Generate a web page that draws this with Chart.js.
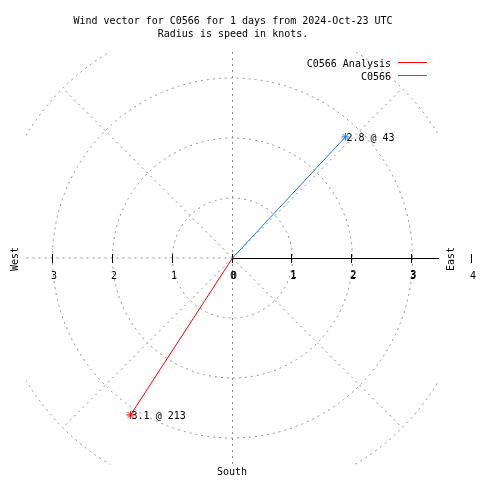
<!DOCTYPE html>
<html>
<head>
<meta charset="utf-8">
<script src="https://cdn.jsdelivr.net/npm/chart.js@4.4.0/dist/chart.umd.min.js"></script>
<style>
  html, body { margin: 0; padding: 0; background: #fff; }
  #wrap { width: 480px; height: 480px; position: relative; }
</style>
</head>
<body>
<div id="wrap"><canvas id="windChart"></canvas></div>
<script>
// data
const seriesNames = ['C0566 Analysis', 'C0566'];
const speeds = [3.12, 2.76];        // knots
const directions = [213, 43];       // degrees, clockwise from north
const seriesColors = ['#ff0000', '#1a7ae6'];
const ringValues = [1, 2, 3, 4];
const tickLabels = ['0', '1', '2', '3', '4'];
const titleLines = [
    'Wind vector for C0566 for 1 days from 2024-Oct-23 UTC',
    'Radius is speed in knots.'
];

const FONT = '10px "DejaVu Sans Mono", "Liberation Mono", monospace';
const LIM = 3.4417;

function tip(i) {
    const a = directions[i] * Math.PI / 180;
    return { x: speeds[i] * Math.sin(a), y: speeds[i] * Math.cos(a) };
}

const datasets = seriesNames.map((name, i) => ({
    label: name,
    data: [{ x: 0, y: 0 }, tip(i)],
    showLine: true,
    borderColor: seriesColors[i],
    backgroundColor: seriesColors[i],
    borderWidth: 1,
    pointStyle: 'star',
    pointRadius: [0, 4],
    pointBorderColor: seriesColors[i],
    pointBorderWidth: 1
}));

// polar grid, axis, and all the gnuplot-style text
const polarDecor = {
    id: 'polarDecor',
    beforeDatasetsDraw(chart) {
        const { ctx, chartArea: ca, scales: { x, y } } = chart;
        const cx = x.getPixelForValue(0);
        const cy = y.getPixelForValue(0);
        const unit = x.getPixelForValue(1) - cx;

        ctx.save();
        ctx.beginPath();
        ctx.rect(ca.left, ca.top, ca.right - ca.left, ca.bottom - ca.top);
        ctx.clip();
        ctx.strokeStyle = '#8c8c8c';
        ctx.lineWidth = 1;
        ctx.setLineDash([2, 4]);
        ringValues.forEach(r => {
            ctx.beginPath();
            ctx.arc(cx, cy, r * unit, 0, Math.PI * 2);
            ctx.stroke();
        });
        const rMax = ringValues[ringValues.length - 1];
        for (let deg = 0; deg < 360; deg += 45) {
            if (deg === 90) continue; // east is the solid axis
            const a = deg * Math.PI / 180;
            ctx.beginPath();
            ctx.moveTo(cx, cy);
            ctx.lineTo(x.getPixelForValue(rMax * Math.sin(a)), y.getPixelForValue(rMax * Math.cos(a)));
            ctx.stroke();
        }
        ctx.restore();

        // solid east axis
        ctx.save();
        ctx.strokeStyle = '#000';
        ctx.lineWidth = 1;
        ctx.beginPath();
        ctx.moveTo(cx, cy + 0.5);
        ctx.lineTo(ca.right, cy + 0.5);
        ctx.stroke();

        // ticks and tick labels
        ctx.font = FONT;
        ctx.fillStyle = '#000';
        ctx.textAlign = 'center';
        ctx.textBaseline = 'alphabetic';
        tickLabels.forEach((lab, k) => {
            const v = Number(lab);
            [v, -v].forEach((val, side) => {
                if (side === 1 && v === 4) return;
                if (side === 1 && v === 0) return;
                const px = Math.round(x.getPixelForValue(val)) - 0.5;
                ctx.beginPath();
                ctx.moveTo(px, cy - 4);
                ctx.lineTo(px, cy + 5);
                ctx.stroke();
                ctx.fillText(lab, px + 1.5, cy + 21);
                if (side === 0 && v > 0 && v < 4) ctx.fillText(lab, px + 2, cy + 20);
            });
        });
        ctx.fillText('0', cx + 0.5, cy + 21);
        ctx.restore();
    },
    afterDatasetsDraw(chart) {
        const { ctx, scales: { x, y } } = chart;
        const cx = x.getPixelForValue(0);
        const cy = y.getPixelForValue(0);
        ctx.save();
        ctx.font = FONT;
        ctx.fillStyle = '#000';

        // title
        ctx.textAlign = 'center';
        ctx.fillText(titleLines[0], 233, 24);
        ctx.fillText(titleLines[1], 233, 37);

        // vector labels
        ctx.textAlign = 'left';
        seriesNames.forEach((name, i) => {
            const t = tip(i);
            ctx.fillText(speeds[i].toFixed(1) + ' @ ' + directions[i],
                x.getPixelForValue(t.x) + 1, y.getPixelForValue(t.y) + 4);
        });

        // compass labels
        ctx.textAlign = 'center';
        ctx.fillText('South', 232, 475);
        [['West', 18], ['East', 454]].forEach(([txt, px]) => {
            ctx.save();
            ctx.translate(px, cy + 1);
            ctx.rotate(-Math.PI / 2);
            ctx.fillText(txt, 0, 0);
            ctx.restore();
        });

        // legend
        ctx.textAlign = 'right';
        seriesNames.forEach((name, i) => {
            const ly = 67 + i * 13;
            ctx.fillText(name, 391, ly);
            ctx.strokeStyle = seriesColors[i];
            ctx.lineWidth = 1;
            ctx.beginPath();
            ctx.moveTo(398, ly - 4.5);
            ctx.lineTo(427, ly - 4.5);
            ctx.stroke();
        });
        ctx.restore();
    }
};

new Chart(document.getElementById('windChart'), {
    type: 'scatter',
    data: { datasets },
    options: {
        responsive: true,
        maintainAspectRatio: false,
        animation: false,
        layout: { padding: { left: 26, right: 41, top: 51.5, bottom: 15.5 } },
        scales: {
            x: { type: 'linear', min: -LIM, max: LIM, display: false },
            y: { type: 'linear', min: -LIM, max: LIM, display: false }
        },
        plugins: {
            legend: { display: false },
            tooltip: { enabled: false }
        }
    },
    plugins: [polarDecor]
});
</script>
</body>
</html>
